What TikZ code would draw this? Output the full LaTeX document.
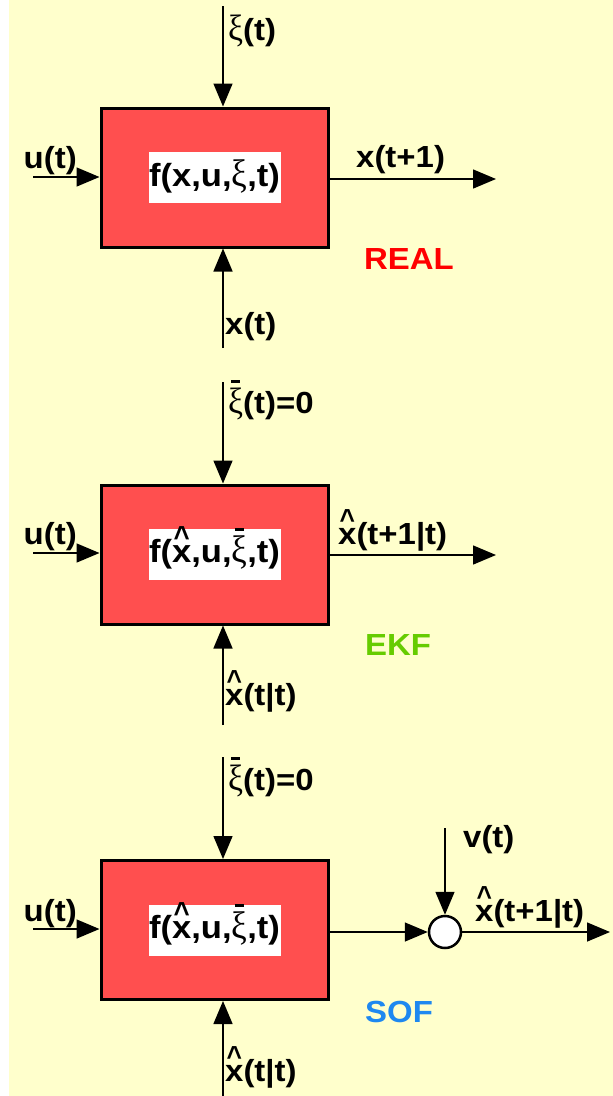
\documentclass[tikz,border=0pt]{standalone}
\usepackage{fontspec}
\usepackage{graphicx}
\setmainfont[FakeStretch=1.08]{Liberation Sans}
\newfontfamily\grk{Liberation Serif}
\usetikzlibrary{arrows.meta}
\definecolor{bgyellow}{HTML}{FFFFCC}
\definecolor{boxred}{HTML}{FF4F4F}
\definecolor{realred}{HTML}{FF0000}
\definecolor{ekfgreen}{HTML}{66CC00}
\definecolor{sofblue}{HTML}{1E88F0}
\newcommand\xin{\scalebox{1.1}[1.2]{\grk\mdseries ξ}}
\newcommand\xib{\leavevmode\hbox{\ooalign{\xin\cr\hidewidth\rule[0.99em]{0.28em}{0.08em}\hidewidth\cr}}}
\newcommand\hx{\leavevmode\hbox{\ooalign{x\cr\hidewidth\raisebox{0.47em}{\scalebox{0.8}[0.95]{\textasciicircum}}\hidewidth\cr}}}
\tikzset{
 box/.style={draw=black, line width=3pt, fill=boxred, minimum width=227pt, minimum height=139pt, inner sep=0pt},
 ftext/.style={fill=white, minimum width=132pt, minimum height=51pt, inner sep=0pt, text height=24pt, text depth=7pt, font=\fontsize{32}{38}\selectfont\bfseries},
 lbl/.style={anchor=base west, inner sep=0pt, font=\fontsize{30.5}{36}\selectfont\bfseries},
 arr/.style={line width=1.5pt, -{Triangle[length=23pt,width=19pt]}},
 sumnode/.style={circle, draw=black, line width=2.5pt, fill=white, minimum size=32pt, inner sep=0pt},
}
\begin{document}
\begin{tikzpicture}[x=1pt,y=-1pt]
\useasboundingbox (0,0) rectangle (613,1096);
\fill[white] (0,0) rectangle (613,1096);
\fill[bgyellow] (9,0) rectangle (613,1096);

% ---------- Panel 1: REAL ----------
\node[box] (b1) at (214.5,177.5) {};
\node[ftext] (f1) at (214.5,177.5) {f(x,u,\xin,t)};
\coordinate (t1) at (223,6);
\coordinate (u1) at (33,177);
\coordinate (o1) at (496,179);
\coordinate (d1) at (223,348);
\draw[arr] (t1) -- (t1 |- b1.north);
\draw[arr] (u1) -- (u1 -| b1.west);
\draw[arr] (b1.east |- o1) -- (o1);
\draw[arr] (d1) -- (d1 |- b1.south);
\node[lbl] (l1a) at (228,40) {\xin(t)};
\node[lbl] (l1b) at (23.5,168) {u(t)};
\node[lbl] (l1c) at (356,167) {x(t+1)};
\node[lbl, text=realred] (l1d) at (364,269) {REAL};
\node[lbl] (l1e) at (225,334) {x(t)};

% ---------- Panel 2: EKF ----------
\node[box] (b2) at (214.5,554.5) {};
\node[ftext] (f2) at (214.5,554) {f(\hx,u,\xib,t)};
\coordinate (t2) at (223,382);
\coordinate (u2) at (33,553);
\coordinate (o2) at (496,555);
\coordinate (d2) at (223,725);
\draw[arr] (t2) -- (t2 |- b2.north);
\draw[arr] (u2) -- (u2 -| b2.west);
\draw[arr] (b2.east |- o2) -- (o2);
\draw[arr] (d2) -- (d2 |- b2.south);
\node[lbl] (l2a) at (228,413) {\xib(t)=0};
\node[lbl] (l2b) at (23.5,544) {u(t)};
\node[lbl] (l2c) at (338,544) {\hx(t+1|t)};
\node[lbl, text=ekfgreen] (l2d) at (365,655) {EKF};
\node[lbl] (l2e) at (225,705) {\hx(t|t)};

% ---------- Panel 3: SOF ----------
\node[box] (b3) at (214.5,930) {};
\node[ftext] (f3) at (214.5,930) {f(\hx,u,\xib,t)};
\node[sumnode] (c3) at (445,932) {};
\coordinate (t3) at (223,757);
\coordinate (u3) at (33,929);
\coordinate (o3) at (610,932);
\coordinate (v3) at (445,828);
\coordinate (d3) at (223,1096);
\draw[arr] (t3) -- (t3 |- b3.north);
\draw[arr] (u3) -- (u3 -| b3.west);
\draw[arr] (b3.east |- c3) -- (c3.west);
\draw[arr] (c3.east) -- (o3);
\draw[arr] (v3) -- (c3.north);
\draw[arr] (d3) -- (d3 |- b3.south);
\node[lbl] (l3a) at (228,790) {\xib(t)=0};
\node[lbl] (l3b) at (23.5,921) {u(t)};
\node[lbl] (l3c) at (463,847) {v(t)};
\node[lbl] (l3d) at (475,921) {\hx(t+1|t)};
\node[lbl, text=sofblue] (l3e) at (365,1022) {SOF};
\node[lbl] (l3f) at (225,1081) {\hx(t|t)};
\end{tikzpicture}
\end{document}
